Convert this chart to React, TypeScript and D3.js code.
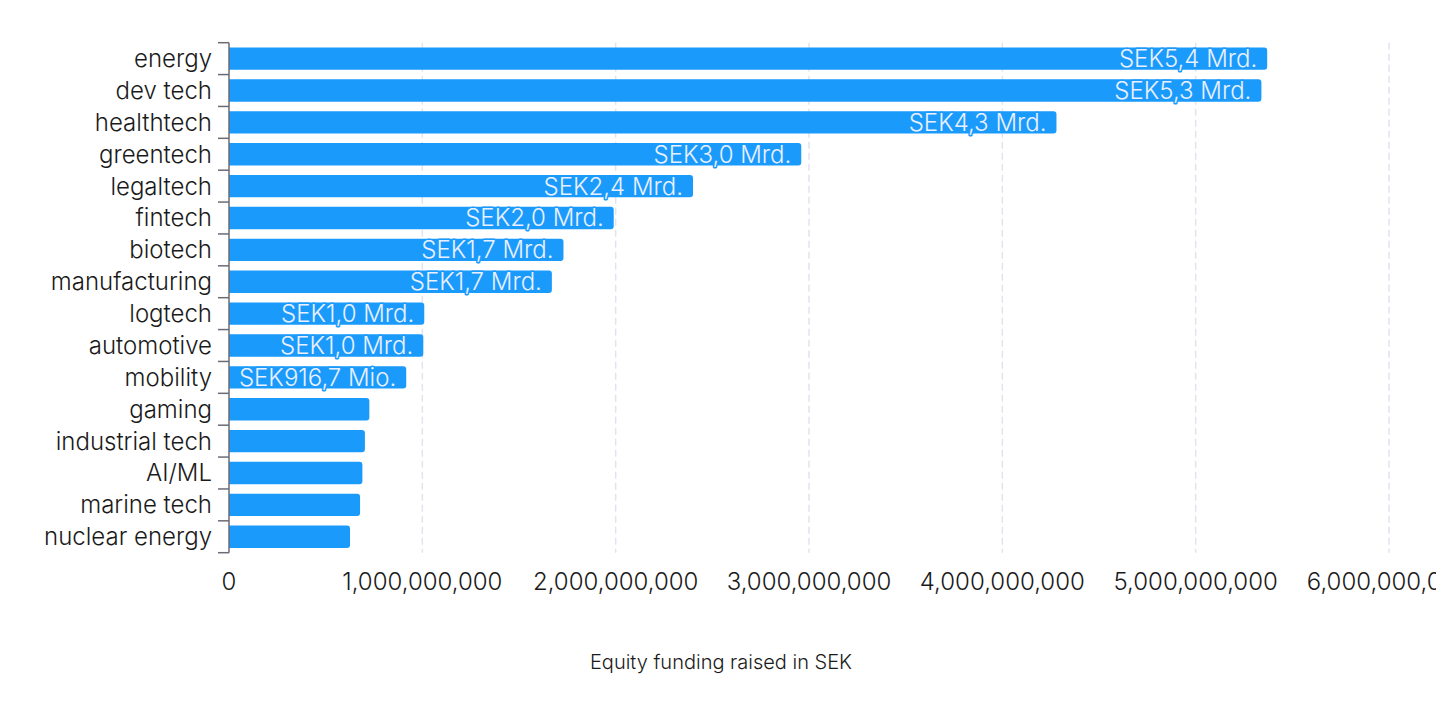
import React from "react";
import * as d3 from "d3";

const categories = [
  "energy", "dev tech", "healthtech", "greentech", "legaltech", "fintech", "biotech",
  "manufacturing", "logtech", "automotive", "mobility", "gaming", "industrial tech",
  "AI/ML", "marine tech", "nuclear energy",
];
const values = [
  5.37e9, 5.34e9, 4.28e9, 2.96e9, 2.4e9, 1.99e9, 1.73e9, 1.67e9, 1.01e9, 1.005e9,
  916.7e6, 726e6, 703e6, 690e6, 678e6, 626e6,
];
const xTicks = [0, 1e9, 2e9, 3e9, 4e9, 5e9, 6e9];
const axisTitle = "Equity funding raised in SEK";

const W = 1428;
const H = 696;
const FONT = "Inter, 'Noto Sans', sans-serif";
const BAR = "#1a9bfc";

const de = d3.formatLocale({ decimal: ",", thousands: ".", grouping: [3], currency: ["", ""] });
const f1 = de.format(".1f");
function labelOf(v: number) {
  return v >= 1e9 ? `SEK${f1(v / 1e9)} Mrd.` : `SEK${f1(v / 1e6)} Mio.`;
}
const tickFmt = d3.format(",");

export default function App() {
  const x = d3.scaleLinear().domain([0, 6e9]).range([221, 1381]);
  const y = d3.scaleBand<string>().domain(categories).range([34.7, 544.7]).paddingInner(0.3).paddingOuter(0.15);
  const step = y.step();
  const bw = y.bandwidth();
  const boundaries = categories.map((c) => (y(c) as number) - step * 0.15);
  boundaries.push(544.7);
  const x0 = x(0);

  return (
    <svg width={W} height={H} style={{ display: "block" }} fontFamily={FONT} fontWeight={300}>
      {xTicks.slice(1).map((t) => (
        <line key={t} x1={x(t)} x2={x(t)} y1={34.7} y2={544.7} stroke="#dfe4ef" strokeWidth={1.5} strokeDasharray="7,4" />
      ))}
      {categories.map((c, i) => {
        const v = values[i];
        const y0 = y(c) as number;
        const x1 = x(v);
        const r = 3;
        const d = `M${x0},${y0}H${x1 - r}A${r},${r} 0 0 1 ${x1},${y0 + r}V${y0 + bw - r}A${r},${r} 0 0 1 ${x1 - r},${y0 + bw}H${x0}Z`;
        const lbl = labelOf(v);
        const estW = lbl.length * 12;
        const show = x1 - x0 > estW + 10;
        return (
          <g key={c}>
            <path d={d} fill={BAR} />
            {show && (
              <text
                x={x1 - 10}
                y={y0 + bw / 2}
                dy="0.35em"
                textAnchor="end"
                fontSize={24}
                fill="#eaf0ff"
                stroke={BAR}
                strokeWidth={3}
                paintOrder="stroke"
                strokeLinejoin="round"
              >
                {lbl}
              </text>
            )}
            <text x={204} y={y0 + bw / 2} dy="0.35em" textAnchor="end" fontSize={24} fill="#1a1a1a">
              {c}
            </text>
          </g>
        );
      })}
      <line x1={x0} x2={x0} y1={34.7} y2={544.7} stroke="#6b6b76" strokeWidth={1.5} />
      {boundaries.map((b, i) => (
        <line key={i} x1={x0 - 11} x2={x0} y1={b} y2={b} stroke="#6b6b76" strokeWidth={1.5} />
      ))}
      {xTicks.map((t) => (
        <text key={t} x={x(t)} y={574} dy="0.35em" textAnchor="middle" fontSize={24} fill="#1a1a1a">
          {tickFmt(t)}
        </text>
      ))}
      <text x={713} y={654} dy="0.35em" textAnchor="middle" fontSize={20} fill="#1a1a1a">
        {axisTitle}
      </text>
    </svg>
  );
}
